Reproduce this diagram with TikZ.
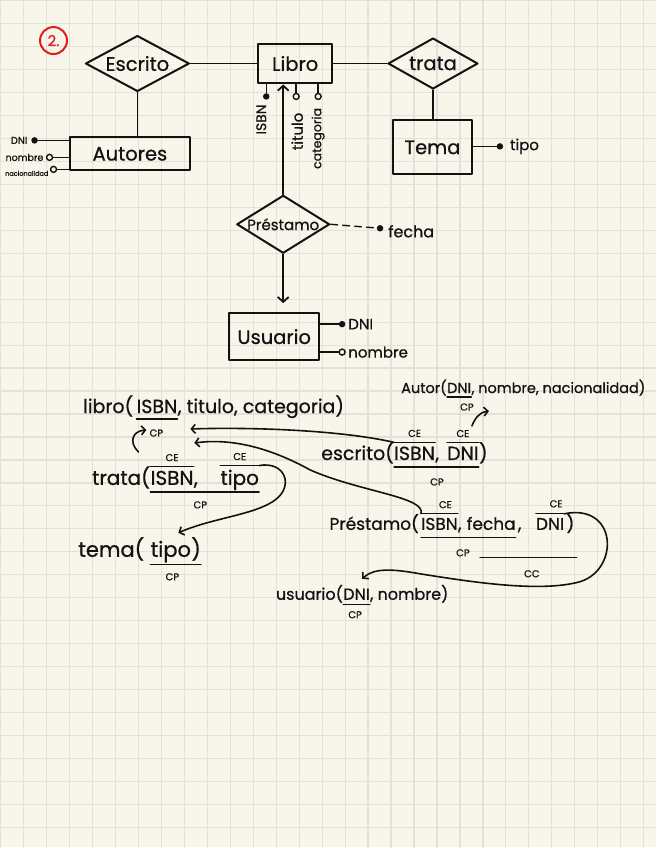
\documentclass[tikz,border=0pt]{standalone}
\usepackage{fontspec}
\setmainfont{Poppins}[FakeBold=0.7]
\usetikzlibrary{shapes.geometric,arrows.meta}
\definecolor{paper}{RGB}{248,246,234}
\definecolor{gridc}{RGB}{226,226,219}
\definecolor{ink}{RGB}{18,18,18}
\definecolor{redink}{RGB}{226,28,28}
\newcommand\myer{\fontsize{19.5}{21}\selectfont}
\newcommand\myattr{\fontsize{14}{16}\selectfont}
\newcommand\myrel{\fontsize{19}{21}\selectfont}
\newcommand\mysmall{\fontsize{10}{11}\selectfont}
\begin{document}
\begin{tikzpicture}[x=1pt,y=-1pt,line cap=round,line join=round,
  hand/.style={draw=ink,line width=2pt},
  entity/.style={rectangle,hand,inner sep=0pt,font=\myer,text=ink},
  relship/.style={diamond,hand,inner sep=0pt,font=\myer,text=ink},
  attrtxt/.style={inner sep=0pt,font=\myattr,text=ink},
  fdot/.style={circle,fill=ink,inner sep=0pt,minimum size=6.5pt},
  odot/.style={circle,draw=ink,line width=1.4pt,fill=paper,inner sep=0pt,minimum size=6pt},
  conn/.style={draw=ink,line width=1.8pt},
  aconn/.style={draw=ink,line width=1.4pt},
  arr/.style={conn,-{Straight Barb[length=5pt,width=11pt,line width=1.8pt]}},
  rarr/.style={draw=ink,line width=1.6pt,-{Straight Barb[length=4pt,width=9pt,line width=1.6pt]}},
  reltxt/.style={inner sep=0pt,anchor=base west,font=\myrel,text=ink},
  pretxt/.style={inner sep=0pt,anchor=base east,font=\myrel,text=ink},
  keytxt/.style={inner sep=0pt,font=\mysmall,text=ink},
  uline/.style={draw=ink,line width=1.3pt}]
% paper and grid
\fill[paper] (0,0) rectangle (656,848);
\foreach \i in {0,...,28} \draw[gridc,line width=1.2pt] (\i*23,0) -- (\i*23,848);
\foreach \j in {0,...,36} \draw[gridc,line width=1.2pt] (0,\j*23) -- (656,\j*23);
\useasboundingbox (0,0) rectangle (656,848);

% number
\node[circle,draw=redink,line width=2pt,minimum size=27pt,inner sep=0pt,text=redink,font=\fontsize{15}{16}\selectfont] (num) at (53,40) {2.};

% ---------- ER diagram ----------
\node[entity,minimum width=74pt,minimum height=40pt] (libro) at (295,63) {Libro};
\node[relship,minimum width=104pt,minimum height=56pt] (escrito) at (137,63) {\makebox[0pt]{Escrito}};
\node[relship,minimum width=90pt,minimum height=51pt] (trata) at (433,63) {\makebox[0pt]{trata}};
\node[entity,minimum width=79pt,minimum height=54pt] (tema) at (432.5,147) {Tema};
\node[entity,minimum width=121pt,minimum height=33pt] (autores) at (129.5,153.5) {Autores};
\node[relship,minimum width=93pt,minimum height=58pt,font=\fontsize{15}{17}\selectfont] (prestamo) at (283,224) {\makebox[0pt]{Préstamo}};
\node[entity,minimum width=90pt,minimum height=47pt] (usuario) at (274,336.5) {Usuario};

\draw[conn] (escrito.east) -- (libro.west);
\draw[conn] (libro.east) -- (trata.west);
\draw[conn] (trata.south) -- (trata.south |- tema.north);
\draw[conn] (escrito.south) -- (escrito.south |- autores.north);
\draw[arr] (prestamo.north) -- (prestamo.north |- libro.south);
\draw[arr] (prestamo.south) -- ++(0,49);

% Autores attributes
\node[fdot] (adni) at (34,140) {};
\node[attrtxt,anchor=east,font=\fontsize{10}{12}\selectfont] (adnit) at (27,140) {DNI};
\draw[aconn] (adni) -- (adni -| autores.west);
\node[odot] (anom) at (49,157) {};
\node[attrtxt,anchor=east,font=\fontsize{9.5}{11}\selectfont] (anomt) at (43,157) {nombre};
\draw[aconn] (anom) -- (anom -| autores.west);
\node[odot] (anac) at (53,169) {};
\node[attrtxt,anchor=east,font=\fontsize{6.5}{8}\selectfont] (anact) at (48,173) {nacionalidad};
\draw[aconn] (anac) -- (anac -| autores.west);

% Libro attributes
\node[fdot] (lisbn) at (266,96) {};
\draw[aconn] (lisbn) -- (lisbn |- libro.south);
\node[attrtxt,rotate=90,font=\fontsize{14}{16}\selectfont] (lisbnt) at (261,119) {ISBN};
\node[odot] (ltit) at (296,96) {};
\draw[aconn] (ltit) -- (ltit |- libro.south);
\node[attrtxt,rotate=90,font=\fontsize{15}{17}\selectfont] (ltitt) at (297,131) {titulo};
\node[odot] (lcat) at (318,96) {};
\draw[aconn] (lcat) -- (lcat |- libro.south);
\node[attrtxt,rotate=90,font=\fontsize{12.5}{14}\selectfont] (lcatt) at (318,138) {categoria};

% Tema attribute
\node[fdot] (ttipo) at (500,146) {};
\draw[aconn] (ttipo) -- (ttipo -| tema.east);
\node[attrtxt,anchor=west,font=\fontsize{15}{17}\selectfont] (ttipot) at (510,146) {tipo};

% Prestamo attribute
\node[fdot] (pfecha) at (380,228) {};
\draw[aconn,dashed,dash pattern=on 7pt off 5pt] (prestamo.east) -- (pfecha);
\node[attrtxt,anchor=west,font=\fontsize{16}{18}\selectfont] (pfechat) at (388,231) {fecha};

% Usuario attributes
\node[fdot] (udni) at (342,324) {};
\draw[aconn] (udni) -- (udni -| usuario.east);
\node[attrtxt,anchor=west,font=\fontsize{15}{17}\selectfont] (udnit) at (348,324) {DNI};
\node[odot] (unom) at (342,352) {};
\draw[aconn] (unom) -- (unom -| usuario.east);
\node[attrtxt,anchor=west,font=\fontsize{15}{17}\selectfont] (unomt) at (348,352) {nombre};

% ---------- relational schema ----------
% libro
\node[reltxt] (lb1) at (136,413) {ISBN};
\node[pretxt] (lb0) at ([xshift=-3pt]lb1.base west) {libro(};
\node[reltxt] (lb2) at (lb1.base east) {, titulo, categoria)};
\draw[uline] ([yshift=-6pt]lb1.base west) -- ([yshift=-6pt]lb1.base east);
\node[keytxt] (lbcp) at (156,433) {CP};
\coordinate (lbin1) at (190,429);
\coordinate (lbin2) at (194,443);

% Autor
\node[reltxt,font=\fontsize{14.5}{16}\selectfont] (au1) at (447,393) {DNI};
\node[pretxt,font=\fontsize{14.5}{16}\selectfont] (au0) at (au1.base west) {Autor(};
\node[reltxt,font=\fontsize{14.5}{16}\selectfont] (au2) at (au1.base east) {, nombre, nacionalidad)};
\draw[uline] ([yshift=-4pt]au1.base west) -- ([yshift=-4pt]au1.base east);
\node[keytxt] (aucp) at (467,407) {CP};

% escrito
\node[reltxt] (es1) at (394,460) {ISBN};
\node[pretxt] (es0) at (es1.base west) {escrito(};
\node[reltxt] (es2) at (es1.base east) {,};
\node[reltxt] (es3) at (447,460) {DNI};
\node[reltxt] (es4) at (es3.base east) {)};
\draw[uline] ([yshift=4pt]es1.north west) -- ([yshift=4pt]es1.north east);
\draw[uline] ([yshift=4pt]es3.north west) -- ([yshift=4pt]es3.north east);
\node[keytxt] (esce1) at ([yshift=13pt]es1.north) {CE};
\node[keytxt] (esce2) at ([yshift=13pt]es3.north) {CE};
\draw[uline] ([yshift=-7pt]es1.base west) -- ([yshift=-7pt]es3.base east);
\node[keytxt] (escp) at (437,482) {CP};

% trata
\node[reltxt,font=\fontsize{20}{22}\selectfont] (tr1) at (150,485) {ISBN};
\node[pretxt,font=\fontsize{20}{22}\selectfont] (tr0) at (tr1.base west) {trata(};
\node[reltxt,font=\fontsize{20}{22}\selectfont] (tr2) at (tr1.base east) {,};
\node[reltxt,font=\fontsize{20}{22}\selectfont] (tr3) at (220,485) {tipo};
\draw[uline] ([yshift=4pt]tr1.north west) -- ([yshift=4pt]tr1.north east);
\draw[uline] ([yshift=4pt]tr3.north west) -- ([yshift=4pt]tr3.north east);
\node[keytxt] (trce1) at ([yshift=13pt]tr1.north) {CE};
\node[keytxt] (trce2) at ([yshift=13pt]tr3.north) {CE};
\draw[uline] ([yshift=-7pt]tr1.base west) -- ([yshift=-7pt]tr3.base east);
\node[keytxt] (trcp) at (200,505) {CP};

% tema
\node[reltxt,font=\fontsize{21}{23}\selectfont] (tm1) at (150,557) {tipo};
\node[pretxt,font=\fontsize{21}{23}\selectfont] (tm0) at ([xshift=-6pt]tm1.base west) {tema(};
\node[reltxt,font=\fontsize{21}{23}\selectfont] (tm2) at (tm1.base east) {)};
\draw[uline] ([yshift=-8pt]tm1.base west) -- ([yshift=-8pt]tm2.base east);
\node[keytxt] (tmcp) at (172,577) {CP};
\coordinate (tmin) at (178,533);

% Prestamo
\node[reltxt,font=\fontsize{17}{19}\selectfont] (pr1) at (421,530) {ISBN};
\node[pretxt,font=\fontsize{17}{19}\selectfont] (pr0) at ([xshift=-2pt]pr1.base west) {Préstamo(};
\node[reltxt,font=\fontsize{17}{19}\selectfont] (pr2) at (pr1.base east) {,};
\node[reltxt,font=\fontsize{17}{19}\selectfont] (pr3) at ([xshift=5pt]pr2.base east) {fecha};
\node[reltxt,font=\fontsize{17}{19}\selectfont] (pr4) at ([xshift=2pt]pr3.base east) {,};
\node[reltxt,font=\fontsize{17}{19}\selectfont] (pr5) at (536,530) {DNI};
\node[reltxt,font=\fontsize{17}{19}\selectfont] (pr6) at ([xshift=2pt]pr5.base east) {)};
\draw[uline] ([yshift=4pt]pr1.north west) -- ([yshift=4pt]pr1.north east);
\draw[uline] ([yshift=4pt]pr5.north west) -- ([yshift=4pt]pr5.north east);
\node[keytxt] (prce1) at ([yshift=13pt,xshift=6pt]pr1.north) {CE};
\node[keytxt] (prce2) at ([yshift=14pt,xshift=6pt]pr5.north) {CE};
\draw[uline] ([yshift=-8pt]pr1.base west) -- ([yshift=-8pt]pr3.base east);
\node[keytxt] (prcp) at (463,553) {CP};
\draw[uline] (480,558) -- (577,558);
\node[keytxt] (prcc) at (532,574) {CC};

% usuario
\node[reltxt,font=\fontsize{16}{18}\selectfont] (us1) at (343,600) {DNI};
\node[pretxt,font=\fontsize{16}{18}\selectfont] (us0) at (us1.base west) {usuario(};
\node[reltxt,font=\fontsize{16}{18}\selectfont] (us2) at (us1.base east) {, nombre)};
\draw[uline] ([yshift=-5pt]us1.base west) -- ([yshift=-5pt]us1.base east);
\node[keytxt] (uscp) at (355,615) {CP};
\coordinate (usin) at (362,579);

% relational arrows
\draw[rarr] ([yshift=4pt]es1.north west) .. controls (340,430) and (250,427) .. (lbin1);
\draw[rarr] ([yshift=4pt]pr1.north west) .. controls (426,497) and (360,492) .. (310,470) .. controls (270,448) and (232,438) .. (lbin2);
\draw[rarr] ([yshift=4pt]tr3.north east) .. controls (285,461) and (294,486) .. (275,500) .. controls (255,515) and (212,518) .. (tmin);
\draw[rarr] ([yshift=4pt]pr5.north east) .. controls (618,503) and (620,570) .. (580,582) .. controls (540,593) and (470,582) .. (420,574) .. controls (392,569) and (374,568) .. (usin);
\draw[rarr] (138,452) .. controls (128,442) and (132,431) .. (146,430);
\draw[rarr] (472,426) .. controls (475,418) and (480,412) .. (489,411);
\end{tikzpicture}
\end{document}
